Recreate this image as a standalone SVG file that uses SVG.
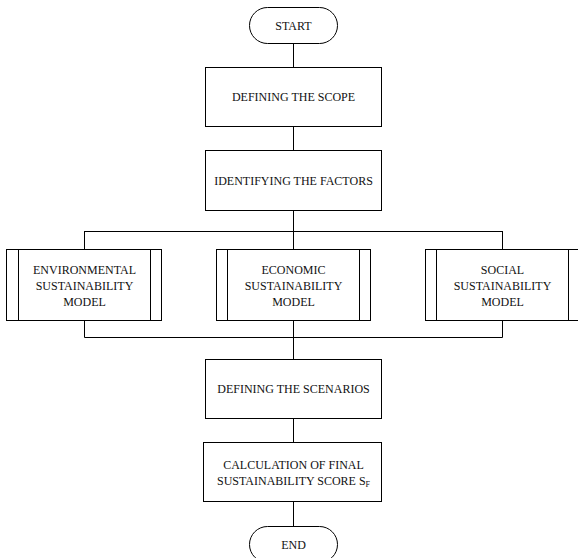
<svg xmlns="http://www.w3.org/2000/svg" width="578" height="558" viewBox="0 0 578 558">
<style>
.b{fill:#fff;stroke:#000;stroke-width:1}
.l{fill:none;stroke:#000;stroke-width:1}
.t{font-family:"Liberation Serif",Tinos,"Times New Roman","DejaVu Serif",serif;font-size:12px;fill:#111;text-anchor:middle}
</style>
<rect width="578" height="558" fill="#fff"/>
<g id="connectors" class="l">
<path d="M293.5 43.5V67.5M293.5 126.5V150.5M293.5 210.5V249M84.5 231.5H502.5M84.5 231V249M502.5 231V249M84.5 320V337.5M293.5 320V359.5M502.5 320V337.5M84.5 337.5H502.5M293.5 418.5V442.5M293.5 501.5V526.5"/>
</g>
<g id="start">
<rect class="b" x="249.5" y="7.5" width="88" height="36" rx="18"/>
<text class="t" x="293.5" y="29.5">START</text>
</g>
<g id="scope">
<rect class="b" x="205.5" y="67.5" width="176" height="59"/>
<text class="t" x="293.5" y="101">DEFINING THE SCOPE</text>
</g>
<g id="factors">
<rect class="b" x="205.5" y="150.5" width="176" height="60"/>
<text class="t" x="293.5" y="184.5">IDENTIFYING THE FACTORS</text>
</g>
<g id="env">
<rect class="b" x="6.5" y="249.5" width="155" height="71"/>
<path class="l" d="M18.5 249.5V320.5M150.5 249.5V320.5"/>
<text class="t" x="84.5" y="273.5">ENVIRONMENTAL</text>
<text class="t" x="84.5" y="289.5">SUSTAINABILITY</text>
<text class="t" x="84.5" y="305.5">MODEL</text>
</g>
<g id="eco">
<rect class="b" x="216.5" y="249.5" width="154" height="71"/>
<path class="l" d="M227.5 249.5V320.5M359.5 249.5V320.5"/>
<text class="t" x="293.5" y="273.5">ECONOMIC</text>
<text class="t" x="293.5" y="289.5">SUSTAINABILITY</text>
<text class="t" x="293.5" y="305.5">MODEL</text>
</g>
<g id="soc">
<rect class="b" x="425.5" y="249.5" width="155" height="71"/>
<path class="l" d="M436.5 249.5V320.5M568.5 249.5V320.5"/>
<text class="t" x="502.5" y="273.5">SOCIAL</text>
<text class="t" x="502.5" y="289.5">SUSTAINABILITY</text>
<text class="t" x="502.5" y="305.5">MODEL</text>
</g>
<g id="scenarios">
<rect class="b" x="205.5" y="359.5" width="176" height="59"/>
<text class="t" x="293.5" y="393">DEFINING THE SCENARIOS</text>
</g>
<g id="calc">
<rect class="b" x="203.5" y="442.5" width="178" height="59"/>
<text class="t" x="293.5" y="469">CALCULATION OF FINAL</text>
<text class="t" x="293.5" y="485">SUSTAINABILITY SCORE S<tspan font-size="8" dy="2">F</tspan></text>
</g>
<g id="end">
<rect class="b" x="249.5" y="526.5" width="88" height="36" rx="18"/>
<text class="t" x="293.5" y="549">END</text>
</g>
</svg>
